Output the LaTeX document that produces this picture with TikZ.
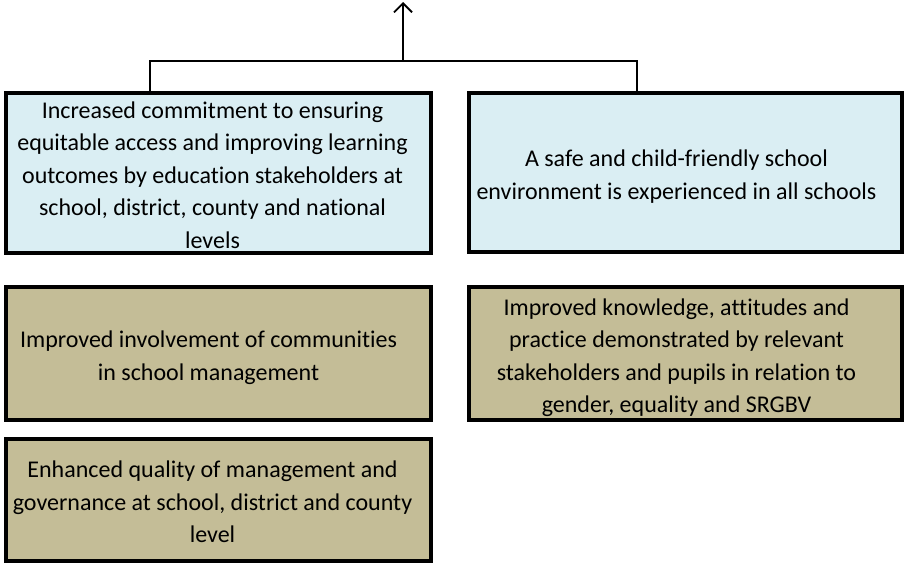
\documentclass[tikz,border=0pt]{standalone}
\usepackage{fontspec}
\setmainfont{Carlito}[Ligatures=NoCommon]
\usetikzlibrary{arrows.meta}
\definecolor{paleblue}{HTML}{DAEEF3}
\definecolor{tan}{HTML}{C4BD97}
\begin{document}
\begin{tikzpicture}[x=1pt,y=-1pt,
  box/.style={draw=black, line width=4pt, inner sep=0pt},
  outcome/.style={box, fill=paleblue},
  output/.style={box, fill=tan},
  txt/.style={align=center, inner sep=0pt,
    font=\fontsize{24}{32.5}\selectfont},
  conn/.style={draw=black, line width=1.8pt},
  up/.style={conn, -{Straight Barb[length=9pt,width=18pt,line width=1.8pt]}}]
\useasboundingbox (0,0) rectangle (904,565);

% outcome level
\node[outcome, minimum width=425pt, minimum height=160pt] (oc1) at (218.5,173) {};
\node[txt] (oc1t) at ([shift={(-6,2)}]oc1.center)
  {Increased commitment to ensuring\\equitable access and improving learning\\
   outcomes by education stakeholders at\\school, district, county and national\\levels};
\node[outcome, minimum width=433pt, minimum height=159pt] (oc2) at (685.5,172.5) {};
\node[txt] (oc2t) at ([shift={(-9,4)}]oc2.center)
  {A safe and child-friendly school\\environment is experienced in all schools};

% output level
\node[output, minimum width=425pt, minimum height=133pt] (op1) at (218.5,353.5) {};
\node[txt] (op1t) at ([shift={(-10,4)}]op1.center)
  {Improved involvement of communities\\in school management};
\node[output, minimum width=425pt, minimum height=122pt] (op2) at (218.5,500) {};
\node[txt] (op2t) at ([shift={(-6,2)}]op2.center)
  {Enhanced quality of management and\\governance at school, district and county\\level};
\node[output, minimum width=433pt, minimum height=133pt] (op3) at (685.5,353.5) {};
\node[txt] (op3t) at ([shift={(-9,4)}]op3.center)
  {Improved knowledge, attitudes and\\practice demonstrated by relevant\\
   stakeholders and pupils in relation to\\gender, equality and SRGBV};

% bracket joining the two outcomes and the arrow above it
\coordinate (jl) at (150,61);
\coordinate (jr) at (637,61);
\coordinate (jm) at (403,61);
\coordinate (goal) at (403,2);
\draw[conn] (oc1.north -| jl) -- (jl) -- (jr) -- (oc2.north -| jr);
\draw[up] (jm) -- (goal);
\end{tikzpicture}
\end{document}
